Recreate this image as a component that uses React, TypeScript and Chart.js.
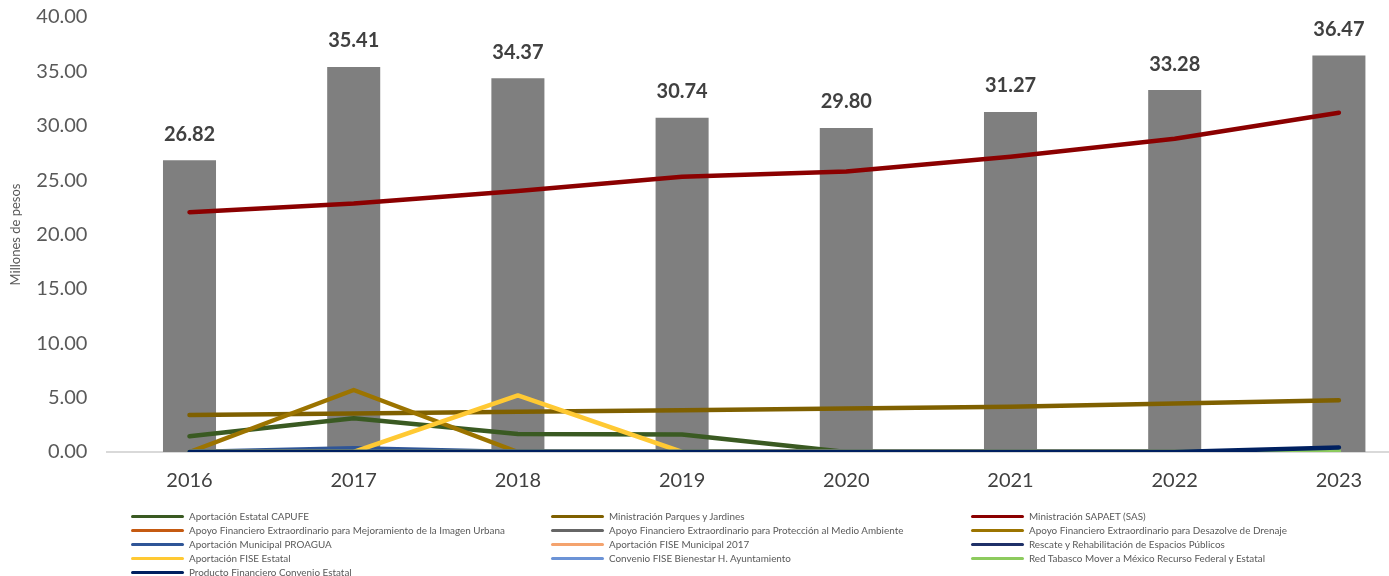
import React, { useEffect, useRef } from "react";
import { Chart, registerables } from "chart.js";
Chart.register(...registerables);

const years = ["2016", "2017", "2018", "2019", "2020", "2021", "2022", "2023"];
const totals = [26.82, 35.41, 34.37, 30.74, 29.8, 31.27, 33.28, 36.47];
const yTickValues = [0, 5, 10, 15, 20, 25, 30, 35, 40];

const capufe = [1.45, 3.1, 1.65, 1.6, 0, 0, 0, 0];
const parquesJardines = [3.4, 3.55, 3.7, 3.85, 4.0, 4.15, 4.45, 4.75];
const sapaet = [22.05, 22.85, 24.0, 25.3, 25.8, 27.15, 28.8, 31.2];
const imagenUrbana = [0, 0, 0, 0, 0, 0, 0, 0];
const medioAmbiente = [0, 0, 0, 0, 0, 0, 0, 0];
const desazolve = [0, 5.7, 0, 0, 0, 0, 0, 0];
const proagua = [0, 0.35, 0, 0, 0, 0, 0, 0];
const fiseMunicipal2017 = [0, 0, 0, 0, 0, 0, 0, 0];
const rescateEspacios = [0, 0, 0, 0, 0, 0, 0, 0];
const fiseEstatal = [0, 0, 5.2, 0, 0, 0, 0, 0];
const convenioFise = [0, 0, 0, 0, 0, 0, 0, 0];
const redTabasco = [0, 0, 0, 0, 0, 0, 0, 0.08];
const productoFinanciero = [0, 0, 0, 0, 0, 0, 0, 0.42];

const seriesNames = [
  "Aportación Estatal CAPUFE",
  "Ministración Parques y Jardines",
  "Ministración SAPAET (SAS)",
  "Apoyo Financiero Extraordinario para Mejoramiento de la Imagen Urbana",
  "Apoyo Financiero Extraordinario para Protección al Medio Ambiente",
  "Apoyo Financiero Extraordinario para Desazolve de Drenaje",
  "Aportación Municipal PROAGUA",
  "Aportación FISE Municipal 2017",
  "Rescate y Rehabilitación de Espacios Públicos",
  "Aportación FISE Estatal",
  "Convenio FISE Bienestar H. Ayuntamiento",
  "Red Tabasco Mover a México Recurso Federal y Estatal",
  "Producto Financiero Convenio Estatal",
];
const seriesValues = [
  capufe, parquesJardines, sapaet, imagenUrbana, medioAmbiente, desazolve, proagua,
  fiseMunicipal2017, rescateEspacios, fiseEstatal, convenioFise, redTabasco, productoFinanciero,
];
const seriesColors = [
  "#3A5A22", "#7F6000", "#8B0000", "#C55A11", "#666666", "#9C7400", "#2F5597",
  "#F4A36E", "#1F3068", "#FFC933", "#6C93D6", "#8DCB5E", "#002060",
];

const FONT = "Lato, 'Open Sans', sans-serif";

const barLabelPlugin = {
  id: "barLabels",
  afterDatasetsDraw(chart: any) {
    const meta = chart.getDatasetMeta(0);
    const ctx = chart.ctx;
    ctx.save();
    ctx.font = `bold 20px ${FONT}`;
    ctx.fillStyle = "#404040";
    ctx.textAlign = "center";
    ctx.textBaseline = "middle";
    meta.data.forEach((el: any, i: number) => {
      ctx.fillText(totals[i].toFixed(2), el.x, el.y - 26);
    });
    ctx.restore();
  },
};

export default function App() {
  const ref = useRef<HTMLCanvasElement>(null);
  useEffect(() => {
    if (!ref.current) return;
    const lineSets = seriesNames.map((name, i) => ({
      type: "line" as const,
      label: name,
      data: seriesValues[i],
      borderColor: seriesColors[i],
      backgroundColor: seriesColors[i],
      borderWidth: 4.5,
      borderCapStyle: "round" as const,
      borderJoinStyle: "round" as const,
      pointRadius: 0,
      tension: 0,
      order: -i,
    }));
    const chart = new Chart(ref.current, {
      type: "bar",
      data: {
        labels: years,
        datasets: [
          {
            type: "bar" as const,
            label: "Total",
            data: totals,
            backgroundColor: "#7F7F7F",
            categoryPercentage: 1,
            barPercentage: 0.323,
            order: 100,
          } as any,
          ...lineSets,
        ],
      },
      options: {
        responsive: false,
        animation: false,
        layout: { padding: { top: 17, bottom: 84, left: 0, right: 19 } },
        plugins: { legend: { display: false }, tooltip: { enabled: false } },
        scales: {
          x: {
            offset: true,
            grid: { display: false, drawTicks: false },
            border: { display: true, color: "#D9D9D9", width: 2 },
            ticks: { color: "#404040", font: { family: FONT, size: 20 }, padding: 17 },
            afterFit: (s: any) => { s.height = 40; s.paddingLeft = 0; s.paddingRight = 0; },
          },
          y: {
            min: 0,
            max: 40,
            afterBuildTicks: (s: any) => { s.ticks = yTickValues.map((v) => ({ value: v })); },
            grid: { display: false, drawTicks: false },
            border: { display: false },
            ticks: {
              color: "#595959",
              font: { family: FONT, size: 20 },
              padding: 20,
              callback: (v: any) => Number(v).toFixed(2),
            },
            title: {
              display: true,
              text: "Millones de pesos",
              color: "#595959",
              font: { family: FONT, size: 13 },
              padding: { top: 8, bottom: 0 },
            },
            afterFit: (s: any) => { s.width = 107.4; s.paddingTop = 0; s.paddingBottom = 0; },
          },
        },
      },
      plugins: [barLabelPlugin],
    });
    return () => chart.destroy();
  }, []);

  return (
    <div style={{ position: "fixed", left: 0, top: 0, width: 1389, height: 576, overflow: "hidden", background: "#fff" }}>
      <canvas ref={ref} width={1440} height={576} style={{ position: "absolute", left: 0, top: 0, width: 1440, height: 576 }} />
      {seriesNames.map((name, i) => {
        const col = i % 3;
        const row = Math.floor(i / 3);
        return (
          <div
            key={name}
            style={{
              position: "absolute",
              left: 131 + col * 420,
              top: 516 + row * 14.1 - 7,
              height: 14,
              display: "flex",
              alignItems: "center",
              whiteSpace: "nowrap",
              fontFamily: FONT,
              fontSize: 9.9,
              color: "#595959",
            }}
          >
            <span style={{ display: "inline-block", width: 53, height: 3, background: seriesColors[i], borderRadius: 1.5, marginRight: 5 }} />
            <span>{name}</span>
          </div>
        );
      })}
    </div>
  );
}
